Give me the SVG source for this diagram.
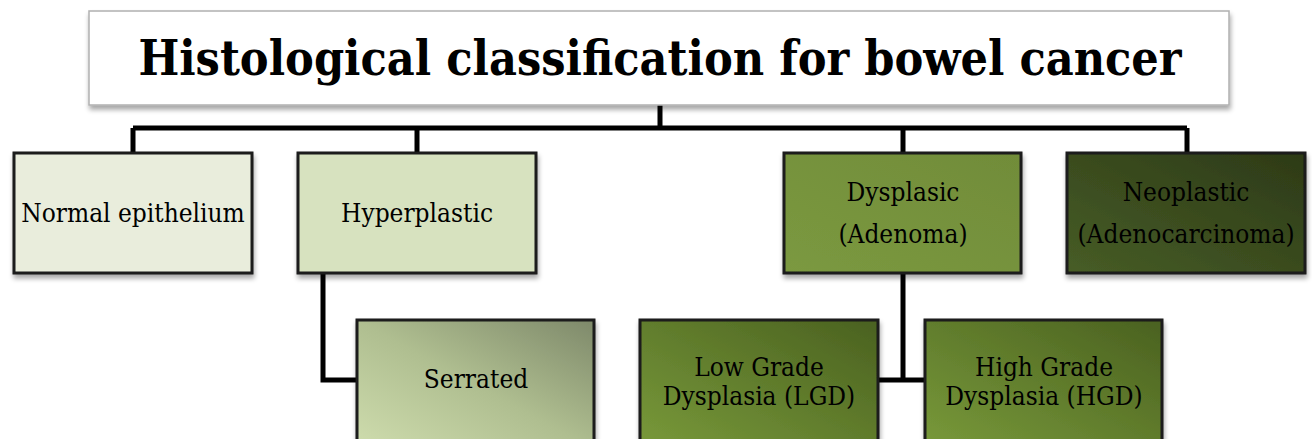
<svg xmlns="http://www.w3.org/2000/svg" width="1312" height="439" viewBox="0 0 1312 439">
<defs>
<filter id="sh" x="-10%" y="-10%" width="130%" height="130%">
<feGaussianBlur in="SourceAlpha" stdDeviation="2.5"/>
<feOffset dx="1" dy="4" result="b"/>
<feComponentTransfer><feFuncA type="linear" slope="0.35"/></feComponentTransfer>
<feMerge><feMergeNode/><feMergeNode in="SourceGraphic"/></feMerge>
</filter>
<linearGradient id="gDys" x1="0" y1="1" x2="1" y2="0">
<stop offset="0" stop-color="#7B9940"/><stop offset="1" stop-color="#718C39"/>
</linearGradient>
<linearGradient id="gNeo" x1="0" y1="1" x2="1" y2="0">
<stop offset="0" stop-color="#475D26"/><stop offset="1" stop-color="#2D3A17"/>
</linearGradient>
<linearGradient id="gSer" x1="0" y1="1" x2="1" y2="0">
<stop offset="0" stop-color="#CFDDAE"/><stop offset="0.5" stop-color="#AFBE90"/><stop offset="1" stop-color="#7E896A"/>
</linearGradient>
<linearGradient id="gGrade" x1="0" y1="1" x2="1" y2="0">
<stop offset="0" stop-color="#799A3A"/><stop offset="1" stop-color="#4A6120"/>
</linearGradient>
</defs>
<style>
.box{stroke:#1a1a1a;stroke-width:3;filter:url(#sh)}
.lbl{font-family:"DejaVu Serif Condensed","Liberation Serif",serif;font-size:26px;fill:#000;text-anchor:middle}
.ttl{font-family:"DejaVu Serif Condensed","Liberation Serif",serif;font-size:48px;font-weight:bold;fill:#000;text-anchor:middle}
.con{fill:none;stroke:#000;stroke-width:5;stroke-linejoin:miter}
</style>
<rect width="1312" height="439" fill="#fff"/>
<g id="connectors">
<path class="con" d="M660 105V128M133 128H1187M133 128V153M417 128V153M903 128V153M1187 128V153"/>
<path class="con" d="M323 273V380H357"/>
<path class="con" d="M903 273V380M878 380H925"/>
</g>
<g id="title">
<rect x="89" y="11" width="1140" height="94" fill="#fff" stroke="#b0b0b0" stroke-width="1.5" filter="url(#sh)"/>
<text class="ttl" x="660" y="75">Histological classification for bowel cancer</text>
</g>
<g id="normal">
<rect class="box" x="14" y="153" width="238" height="120" fill="#E9EDDC"/>
<text class="lbl" x="133" y="222">Normal epithelium</text>
</g>
<g id="hyperplastic">
<rect class="box" x="298" y="153" width="238" height="120" fill="#D7E2BF"/>
<text class="lbl" x="417" y="222">Hyperplastic</text>
</g>
<g id="dysplasic">
<rect class="box" x="784" y="153" width="237" height="120" fill="url(#gDys)"/>
<text class="lbl" x="903" y="201">Dysplasic</text>
<text class="lbl" x="903" y="243">(Adenoma)</text>
</g>
<g id="neoplastic">
<rect class="box" x="1067" y="153" width="238" height="120" fill="url(#gNeo)"/>
<text class="lbl" x="1186" y="201">Neoplastic</text>
<text class="lbl" x="1186" y="243">(Adenocarcinoma)</text>
</g>
<g id="serrated">
<rect class="box" x="357" y="320" width="237" height="130" fill="url(#gSer)"/>
<text class="lbl" x="476" y="388">Serrated</text>
</g>
<g id="lgd">
<rect class="box" x="640" y="320" width="238" height="130" fill="url(#gGrade)"/>
<text class="lbl" x="759" y="376">Low Grade</text>
<text class="lbl" x="759" y="405">Dysplasia (LGD)</text>
</g>
<g id="hgd">
<rect class="box" x="925" y="320" width="237" height="130" fill="url(#gGrade)"/>
<text class="lbl" x="1044" y="376">High Grade</text>
<text class="lbl" x="1044" y="405">Dysplasia (HGD)</text>
</g>
</svg>
